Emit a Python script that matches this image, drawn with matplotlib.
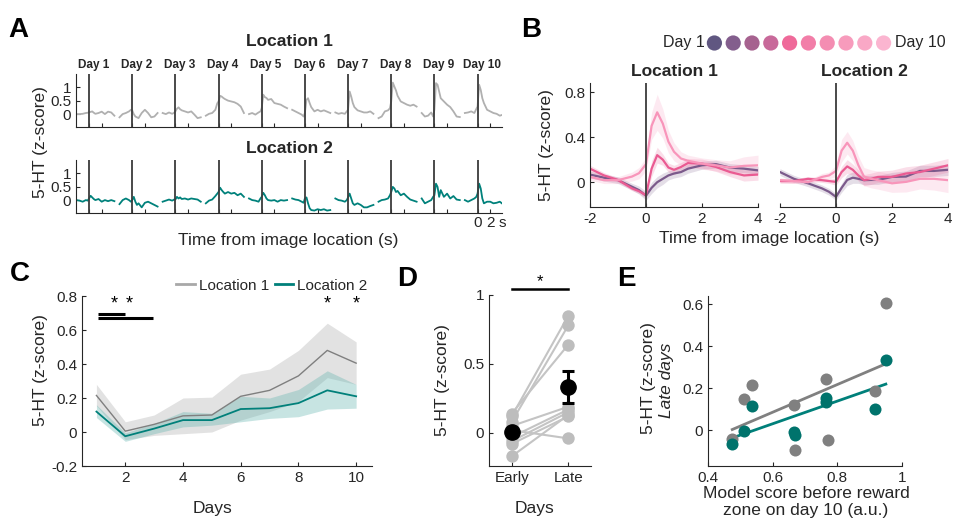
import numpy as np
import matplotlib
matplotlib.use('Agg')
import matplotlib.pyplot as plt
from matplotlib.lines import Line2D

plt.rcParams['font.family'] = ['Liberation Sans', 'DejaVu Sans']
TXT = '#262626'
plt.rcParams['text.color'] = TXT
plt.rcParams['axes.edgecolor'] = TXT
plt.rcParams['xtick.color'] = TXT
plt.rcParams['ytick.color'] = TXT

W, H = 956, 520

# ---------------- data ----------------
# A: single-animal traces, one per day, sampled at t_a (s from image location)
t_a = [-2, -1.5, -1, -0.5, -0.2, 0, 0.25, 0.5, 0.75, 1, 1.5, 2, 2.5, 3, 3.5, 4]
loc1_days = [
    [0, 0, 0.01, 0.04, 0.05, 0.07, 0.08, 0.1, 0.05, 0.01, 0.04, 0.09, 0, 0.09, 0.06, -0.06],
    [-0.12, 0, 0.04, 0.1, 0.16, 0.14, 0.0, -0.09, -0.12, -0.15, 0.04, 0.16, 0.04, -0.12, -0.09, 0.04],
    [0.04, 0, 0.06, 0.01, 0.05, 0.1, 0.2, 0.25, 0.18, 0.14, 0.1, 0.06, 0.1, -0.02, -0.15, -0.12],
    [-0.06, 0.01, 0.04, 0.16, 0.4, 0.47, 0.68, 0.65, 0.6, 0.56, 0.5, 0.47, 0.44, 0.38, 0.28, 0.04],
    [0, 0.04, -0.02, 0.06, 0.1, 0.22, 0.72, 0.63, 0.6, 0.53, 0.56, 0.41, 0.38, 0.35, 0.28, 0.22],
    [0.16, 0.1, 0.04, -0.02, -0.09, 0.04, 0.53, 0.59, 0.41, 0.26, 0.1, 0.16, 0.1, 0.14, 0.09, 0.04],
    [0.06, 0.01, 0.04, 0.01, 0.1, 0.16, 0.84, 0.65, 0.41, 0.26, 0.14, 0.1, 0.06, 0.06, 0.1, 0.01],
    [-0.15, -0.09, 0.1, 0.14, 0.22, 0.47, 1.17, 1.02, 0.88, 0.68, 0.47, 0.41, 0.35, 0.31, 0.35, 0.28],
    [0.04, -0.09, -0.06, 0.06, -0.09, 0.16, 1.15, 1.09, 0.84, 0.59, 0.47, 0.35, 0.26, 0.1, -0.09, -0.11],
    [0.04, 0.06, 0.1, 0.04, 0.19, 0.28, 1.09, 0.9, 0.59, 0.41, 0.16, 0.1, 0.04, 0.01, -0.06, -0.02],
]
loc2_days = [
    [0, -0.02, -0.06, 0, -0.02, 0.06, 0.16, 0.1, 0.04, 0, 0.04, -0.06, 0, -0.04, 0, -0.04],
    [-0.15, 0, 0.06, 0, -0.06, 0, 0.12, -0.06, -0.18, -0.12, -0.27, -0.1, -0.06, -0.12, -0.18, -0.24],
    [-0.06, -0.02, 0.02, -0.02, 0.02, 0.02, 0.12, 0.06, 0.1, 0.04, 0.06, 0.02, 0.06, 0.04, 0.02, -0.06],
    [-0.12, -0.02, 0.02, 0.15, 0.24, 0.3, 0.46, 0.37, 0.3, 0.24, 0.3, 0.24, 0.27, 0.18, 0.24, 0.12],
    [0.06, 0, -0.02, -0.06, 0.06, 0.12, 0.27, 0.18, 0.06, 0, -0.02, 0, -0.06, 0, -0.02, 0],
    [0.06, 0.02, 0, -0.06, -0.1, 0.06, 0.1, -0.12, -0.3, -0.37, -0.39, -0.34, -0.37, -0.34, -0.39, -0.37],
    [0.06, 0, -0.02, -0.06, 0, 0.1, 0.24, 0.06, -0.12, -0.18, -0.12, -0.18, -0.27, -0.27, -0.22, -0.18],
    [-0.06, 0, 0.02, 0.06, 0.18, 0.3, 0.49, 0.43, 0.3, 0.34, 0.18, 0.24, 0.12, 0.02, -0.02, -0.06],
    [0.06, -0.12, -0.06, 0, 0.12, 0.18, 0.61, 0.49, 0.12, 0.37, 0.12, 0.24, 0.06, 0.15, 0.02, 0],
    [0, -0.06, 0, 0.06, 0.12, 0.24, 0.61, 0.43, 0.06, -0.12, -0.06, -0.06, -0.12, -0.1, -0.06, -0.15],
]
day_names = ['Day %d' % d for d in range(1, 11)]

# B: average traces (early / mid / late days) per location
t_b = [-2, -1.5, -1, -0.5, -0.25, 0, 0.2, 0.4, 0.6, 0.8, 1.0, 1.25, 1.5, 2, 2.5, 3, 3.5, 4]
b_loc1 = [
    [0.068, 0.04, 0.018, -0.04, -0.07, -0.12, -0.05, 0.0, 0.03, 0.06, 0.077, 0.09, 0.12, 0.15, 0.16, 0.13, 0.12, 0.105],
    [0.12, 0.06, 0.02, -0.055, -0.08, -0.115, 0.12, 0.24, 0.2, 0.13, 0.11, 0.135, 0.17, 0.165, 0.135, 0.09, 0.06, 0.068],
    [0.047, 0.018, 0.018, 0.05, 0.08, 0.16, 0.5, 0.62, 0.52, 0.36, 0.27, 0.21, 0.19, 0.165, 0.15, 0.13, 0.145, 0.15],
]
b_loc1_sem = [
    [0.03, 0.03, 0.03, 0.03, 0.035, 0.04, 0.05, 0.05, 0.05, 0.04, 0.04, 0.04, 0.04, 0.035, 0.035, 0.035, 0.035, 0.035],
    [0.03, 0.025, 0.02, 0.02, 0.02, 0.03, 0.07, 0.07, 0.05, 0.04, 0.04, 0.04, 0.04, 0.04, 0.04, 0.04, 0.05, 0.05],
    [0.03, 0.03, 0.03, 0.04, 0.05, 0.06, 0.12, 0.16, 0.13, 0.1, 0.08, 0.06, 0.05, 0.05, 0.05, 0.06, 0.08, 0.09],
]
b_loc2 = [
    [0.09, 0.03, -0.01, -0.055, -0.085, -0.13, -0.05, 0.02, 0.04, 0.03, 0.018, 0.02, 0.02, 0.047, 0.05, 0.1, 0.1, 0.11],
    [0.01, 0.01, 0.03, 0.018, 0.01, 0.003, 0.09, 0.14, 0.11, 0.06, 0.018, 0.03, 0.047, 0.047, 0.077, 0.09, 0.12, 0.15],
    [0.018, 0.01, 0.0, 0.047, 0.06, 0.1, 0.28, 0.35, 0.28, 0.15, 0.05, 0.03, 0.018, -0.01, 0.003, 0.03, 0.03, 0.018],
]
b_loc2_sem = [
    [0.03, 0.03, 0.03, 0.03, 0.03, 0.03, 0.04, 0.05, 0.05, 0.04, 0.04, 0.04, 0.04, 0.04, 0.05, 0.05, 0.05, 0.05],
    [0.02, 0.02, 0.02, 0.02, 0.02, 0.03, 0.05, 0.06, 0.05, 0.05, 0.05, 0.05, 0.05, 0.06, 0.06, 0.06, 0.06, 0.06],
    [0.02, 0.02, 0.02, 0.03, 0.03, 0.05, 0.1, 0.1, 0.09, 0.08, 0.08, 0.08, 0.08, 0.08, 0.09, 0.09, 0.1, 0.11],
]
day_colors = ['#605781', '#835e8d', '#a6628f', '#c8699a', '#ef6a9a',
              '#f27ea8', '#f48db2', '#f79bbc', '#f9a8c6', '#fbb5d0']
b_line_colors = ['#7b5a8b', '#ea5b92', '#f895ba']

# C: mean across animals per day
days = [1, 2, 3, 4, 5, 6, 7, 8, 9, 10]
c_loc1 = [0.215, 0.005, 0.045, 0.095, 0.10, 0.21, 0.245, 0.33, 0.48, 0.405]
c_loc1_hi = [0.28, 0.06, 0.10, 0.20, 0.205, 0.34, 0.37, 0.48, 0.64, 0.53]
c_loc1_lo = [0.155, -0.045, -0.02, -0.01, 0.0, 0.07, 0.12, 0.18, 0.32, 0.28]
c_loc2 = [0.12, -0.025, 0.02, 0.07, 0.07, 0.135, 0.14, 0.17, 0.245, 0.21]
c_loc2_hi = [0.16, -0.005, 0.05, 0.12, 0.11, 0.21, 0.20, 0.25, 0.36, 0.28]
c_loc2_lo = [0.085, -0.055, -0.01, 0.03, 0.04, 0.06, 0.08, 0.09, 0.135, 0.14]
c_star_days = [9, 10]

# D: early vs late days per animal
d_early = [0.14, 0.12, 0.08, 0.05, 0.02, -0.03, -0.06, -0.08, -0.17]
d_late = [0.64, 0.85, 0.78, 0.19, -0.04, 0.17, 0.15, 0.12, 0.13]
d_late_sem = 0.115

# E: model score vs late-day 5-HT
e_score = [0.475, 0.51, 0.535, 0.665, 0.67, 0.765, 0.77, 0.915, 0.95]
e_loc1 = [-0.04, 0.15, 0.215, 0.12, -0.095, 0.245, -0.045, 0.185, 0.605]
e_score2 = [0.475, 0.51, 0.535, 0.665, 0.67, 0.765, 0.765, 0.915, 0.95]
e_loc2 = [-0.065, -0.005, 0.115, -0.01, -0.02, 0.155, 0.135, 0.10, 0.335]

GRAY = '#b0b0b0'
TEAL = '#00817b'

fig = plt.figure(figsize=(W / 100, H / 100), dpi=100)


def box(l, t, r, b):
    return [l / W, 1 - b / H, (r - l) / W, (b - t) / H]


def style(ax):
    for s in ['top', 'right']:
        ax.spines[s].set_visible(False)
    ax.tick_params(direction='in', length=3, width=0.8, labelsize=11)


def ftext(x, y, s, **kw):
    fig.text(x / W, 1 - y / H, s, **kw)


# ---------------- A ----------------
gap = 6.8
ta = np.array(t_a)
rows = [(loc1_days, GRAY, 'Location 1', 74, 127), (loc2_days, TEAL, 'Location 2', 160, 213)]
for r, (traces, col, title, top, bot) in enumerate(rows):
    ax = fig.add_axes(box(76, top, 502, bot))
    style(ax)
    for k, tr in enumerate(traces):
        ax.plot(ta + k * gap, tr, color=col, lw=1.3)
        ax.axvline(k * gap, color='#3c3c3c', lw=1.3)
    ax.set_xlim(-2.05, 9 * gap + 3.85)
    ax.set_ylim(-0.48, 1.49)
    ax.set_yticks([0, 0.5, 1])
    ax.set_yticklabels(['0', '0.5', '1'])
    ticks = [k * gap + o for k in range(10) for o in (0, 2)]
    ax.set_xticks(ticks)
    labels = [''] * len(ticks)
    if r == 1:
        labels[-2], labels[-1] = '0', '2'
        ax.annotate('s', xy=(9 * gap + 3.85, 0), xycoords=('data', 'axes fraction'),
                    xytext=(0, -2), textcoords='offset points',
                    fontsize=11, ha='center', va='top', annotation_clip=False)
    ax.set_xticklabels(labels)
    ax.tick_params(axis='x', pad=2)
    ax.set_title(title, fontsize=12.5, fontweight='bold', pad=5 if r else 20)
    if r == 0:
        for k, name in enumerate(day_names):
            ax.text(k * gap + 0.7, 1.62, name, fontsize=8.5, fontweight='bold', ha='center', va='bottom')
ftext(288, 240, 'Time from image location (s)', fontsize=12.5, ha='center', va='center')
ftext(40, 142, '5-HT (z-score)', fontsize=12.5, ha='center', va='center', rotation=90)

# ---------------- B ----------------
tb = np.array(t_b)
for i, (lines, sems, title, l, r) in enumerate([(b_loc1, b_loc1_sem, 'Location 1', 590, 758),
                                                (b_loc2, b_loc2_sem, 'Location 2', 780, 948)]):
    ax = fig.add_axes(box(l, 83, r, 207))
    style(ax)
    for y, s, c in zip(lines, sems, b_line_colors):
        y, s = np.array(y), np.array(s)
        ax.fill_between(tb, y - s, y + s, color=c, alpha=0.2, lw=0)
    for y, c in zip(lines, b_line_colors):
        ax.plot(tb, y, color=c, lw=1.6)
    ax.axvline(0, color='#3c3c3c', lw=1.3)
    ax.set_xlim(-2, 4)
    ax.set_ylim(-0.22, 0.88)
    ax.set_xticks([-2, 0, 2, 4])
    ax.set_xticklabels(['-2', '0', '2', '4'])
    ax.set_yticks([0, 0.4, 0.8])
    ax.set_yticklabels(['0', '0.4', '0.8'])
    ax.set_title(title, fontsize=12.5, fontweight='bold', pad=5)
    if i == 1:
        ax.spines['left'].set_visible(False)
        ax.tick_params(axis='y', left=False, labelleft=False)
ftext(547, 145, '5-HT (z-score)', fontsize=12.5, ha='center', va='center', rotation=90)
ftext(769, 239, 'Time from image location (s)', fontsize=12.5, ha='center', va='center')

axl = fig.add_axes(box(705, 33, 893, 53))
axl.axis('off')
axl.set_xlim(0.5, 10.5)
axl.set_ylim(-1, 1)
axl.scatter(days, [0] * 10, s=120, c=day_colors, lw=0)
axl.text(0.5, 0, 'Day 1', fontsize=11.5, ha='right', va='center')
axl.text(10.6, 0, 'Day 10', fontsize=11.5, ha='left', va='center')

# ---------------- C ----------------
ax = fig.add_axes(box(82, 296, 372, 466))
style(ax)
ax.fill_between(days, c_loc1_lo, c_loc1_hi, color='#d6d6d6', alpha=0.7, lw=0)
ax.fill_between(days, c_loc2_lo, c_loc2_hi, color='#5fb3ae', alpha=0.35, lw=0)
ax.plot(days, c_loc1, color='#7f7f7f', lw=1)
ax.plot(days, c_loc2, color='#00807a', lw=1.3)
ax.set_xlim(0.5, 10.55)
ax.set_ylim(-0.2, 0.8)
ax.set_xticks([2, 4, 6, 8, 10])
ax.set_yticks([-0.2, 0, 0.2, 0.4, 0.6, 0.8])
ax.set_yticklabels(['-0.2', '0', '0.2', '0.4', '0.6', '0.8'])
ax.plot([1.05, 2.0], [0.695, 0.695], color='k', lw=2.2, solid_capstyle='butt')
ax.plot([1.05, 2.95], [0.672, 0.672], color='k', lw=2.2, solid_capstyle='butt')
for x in [1.62, 2.14] + c_star_days:
    ax.text(x, 0.705, '*', fontsize=13, ha='center', va='bottom', color='k')
hs = [Line2D([], [], color='#a8a8a8', lw=2), Line2D([], [], color='#00807a', lw=2)]
ax.legend(hs, ['Location 1', 'Location 2'], ncol=2, frameon=False, fontsize=11,
          loc='center', bbox_to_anchor=(0.655, 1.06), handlelength=1.2,
          handletextpad=0.25, columnspacing=0.4, borderpad=0)
ftext(40, 370, '5-HT (z-score)', fontsize=12.5, ha='center', va='center', rotation=90)
ftext(213, 509, 'Days', fontsize=12.5, ha='center', va='center')

# ---------------- D ----------------
ax = fig.add_axes(box(489, 295, 591, 466))
style(ax)
for e, l in zip(d_early, d_late):
    ax.plot([1, 2], [e, l], color='#c4c4c4', lw=1.5, zorder=1)
ax.scatter([1] * len(d_early), d_early, s=80, color='#bdbdbd', lw=0, zorder=2)
ax.scatter([2] * len(d_late), d_late, s=80, color='#bdbdbd', lw=0, zorder=2)
ax.errorbar([1, 2], [np.mean(d_early), np.mean(d_late)], yerr=[0.0, d_late_sem],
            fmt='o', color='k', ms=11, capsize=4, elinewidth=2.2, capthick=2.2, zorder=3)
ax.set_xlim(0.6, 2.4)
ax.set_ylim(-0.24, 1.0)
ax.set_xticks([1, 2])
ax.set_xticklabels(['Early', 'Late'])
ax.set_yticks([0, 0.5, 1])
ax.set_yticklabels(['0', '0.5', '1'])
ax.plot([1, 2], [1.04, 1.04], color='k', lw=1.8, clip_on=False)
ax.text(1.5, 1.045, '*', fontsize=12, ha='center', va='bottom', color='k')
ftext(442, 380, '5-HT (z-score)', fontsize=12.5, ha='center', va='center', rotation=90)
ftext(535, 509, 'Days', fontsize=12.5, ha='center', va='center')

# ---------------- E ----------------
ax = fig.add_axes(box(708, 296, 902, 466))
style(ax)
ax.scatter(e_score, e_loc1, s=75, color='#808080', lw=0, zorder=2, clip_on=False)
ax.scatter(e_score2, e_loc2, s=75, color='#00736c', lw=0, zorder=3)
for xs, ys, c in [(e_score, e_loc1, '#808080'), (e_score2, e_loc2, '#00807a')]:
    p = np.polyfit(xs, ys, 1)
    xx = np.array([min(xs), max(xs)])
    ax.plot(xx, np.polyval(p, xx), color=c, lw=2, zorder=1)
ax.set_xlim(0.4, 1.0)
ax.set_ylim(-0.17, 0.64)
ax.set_xticks([0.4, 0.6, 0.8, 1.0])
ax.set_xticklabels(['0.4', '0.6', '0.8', '1'])
ax.set_yticks([0, 0.2, 0.4, 0.6])
ax.set_yticklabels(['0', '0.2', '0.4', '0.6'])
ftext(648, 378, '5-HT (z-score)', fontsize=12.5, ha='center', va='center', rotation=90)
ftext(666, 380, 'Late days', fontsize=12.5, ha='center', va='center', rotation=90, style='italic')
ftext(806, 494, 'Model score before reward', fontsize=12.5, ha='center', va='center')
ftext(806, 511, 'zone on day 10 (a.u.)', fontsize=12.5, ha='center', va='center')

# panel letters
for (x, y), s in zip([(8, 30), (521, 30), (10, 274), (397, 279), (617, 279)], 'ABCDE'):
    ftext(x, y, s, fontsize=20, fontweight='bold', color='k', ha='left', va='center')

fig.savefig('out.png', dpi=100)
